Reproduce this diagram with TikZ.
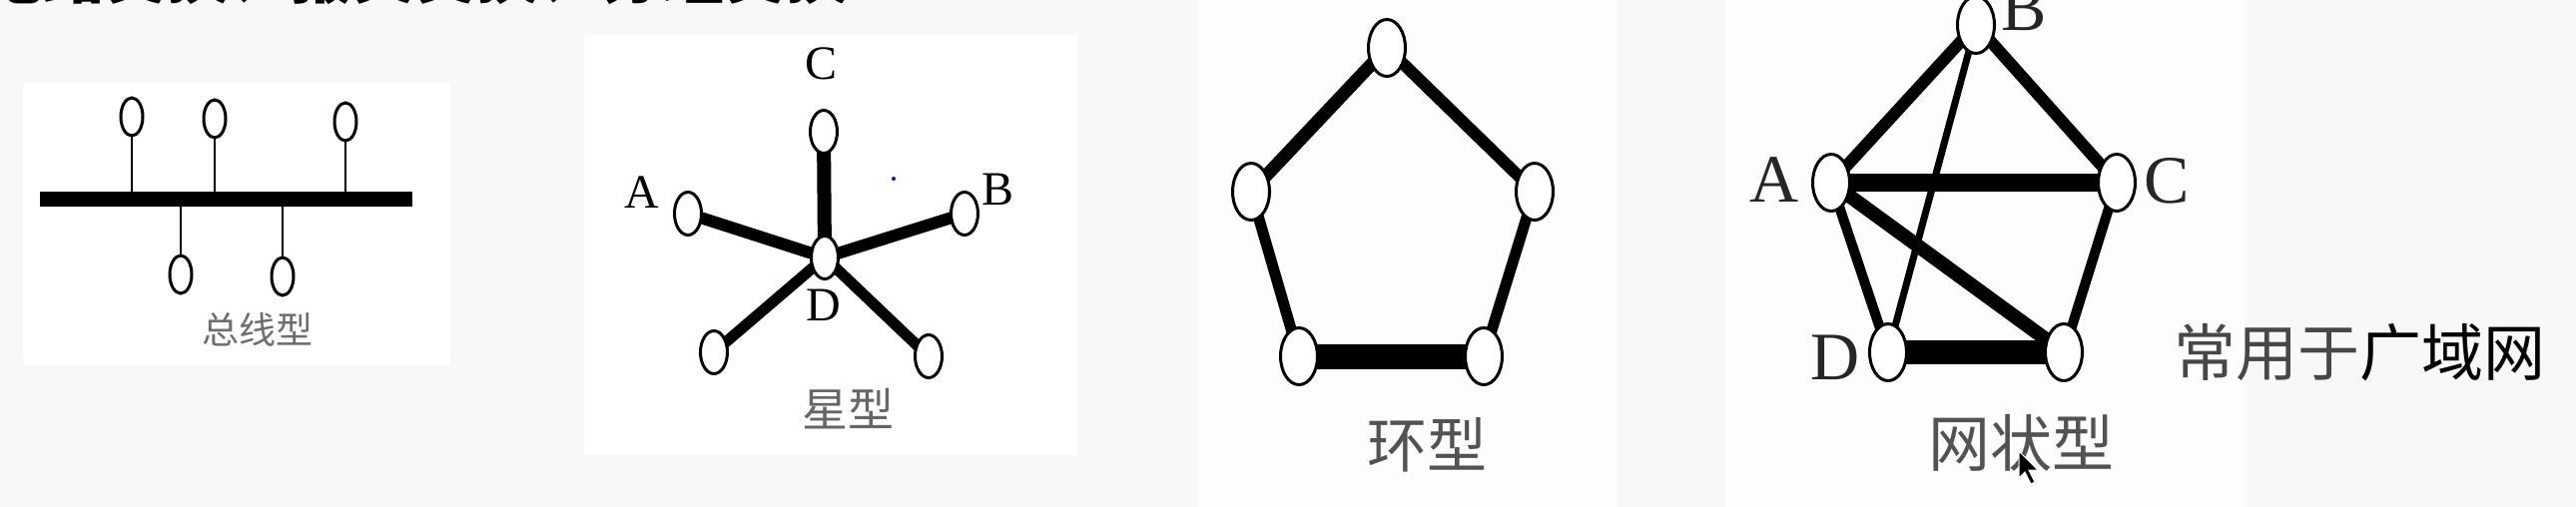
\documentclass[tikz,border=0pt]{standalone}
\usepackage{fontspec}
\newfontfamily\cjk{Noto Sans CJK SC}
\newfontfamily\tms{Liberation Serif}
\usetikzlibrary{shapes.geometric}
\pgfdeclarelayer{panels}
\pgfdeclarelayer{edges}
\pgfsetlayers{panels,edges,main}
\definecolor{bgc}{RGB}{248,248,248}
\definecolor{lblgray}{RGB}{110,110,110}
\tikzset{
  pc/.style={ellipse, draw=black, line width=3pt, fill=white, inner sep=0pt},
  busnode/.style={pc, minimum width=22pt, minimum height=38pt},
  starnode/.style={pc, minimum width=27pt, minimum height=43pt},
  bignode/.style={pc, minimum width=37pt, minimum height=57pt},
  letter/.style={inner sep=0pt, text=black, font=\tms\fontsize{48}{48}\selectfont},
  bigletter/.style={inner sep=0pt, text=black!85, font=\tms\fontsize{68}{68}\selectfont},
  cap/.style={inner sep=0pt, text=lblgray, font=\cjk\fontsize{#1}{#1}\selectfont},
  tap/.style={line width=2.5pt},
}
\begin{document}
\begin{tikzpicture}[x=1pt,y=-1pt]
\useasboundingbox (0,0) rectangle (2580,508);
\begin{pgfonlayer}{panels}
\fill[bgc] (0,0) rectangle (2580,508);
\fill[white] (23,83) rectangle (451,366);
\fill[white] (585,35) rectangle (1079,456);
\fill[white!70!bgc] (1200,0) rectangle (1620,508);
\fill[white!70!bgc] (1728,0) rectangle (2248,508);
\end{pgfonlayer}

% cut-off heading at the top
\node[anchor=base east, inner sep=0pt, font=\cjk\bfseries\fontsize{62}{62}\selectfont] (head) at (850,-1) {电路交换、报文交换、分组交换};

% ---------- bus ----------
\coordinate (busL) at (40,199);
\coordinate (busR) at (413,199);
\node[busnode] (b1) at (132,117) {};
\node[busnode] (b2) at (215,119) {};
\node[busnode] (b3) at (346,122) {};
\node[busnode] (b4) at (181,275) {};
\node[busnode] (b5) at (283,277) {};
\begin{pgfonlayer}{edges}
\draw[line width=15pt] (busL) -- (busR);
\foreach \n in {b1,b2,b3,b4,b5} \draw[tap] (\n.center) -- (\n |- busL);
\end{pgfonlayer}
\node[cap=37] (buslbl) at (258,330) {总线型};

% ---------- star ----------
\node[starnode] (sD) at (826,258) {};
\node[starnode] (sC) at (825,132) {};
\node[starnode] (sA) at (689,214) {};
\node[starnode] (sB) at (966,214) {};
\node[starnode] (sL) at (715,353) {};
\node[starnode] (sR) at (930,357) {};
\begin{pgfonlayer}{edges}
\draw[line width=14pt] (sC.center) -- (sD.center);
\draw[line width=12pt] (sA.center) -- (sD.center);
\draw[line width=12pt] (sB.center) -- (sD.center);
\draw[line width=11pt] (sL.center) -- (sD.center);
\draw[line width=11pt] (sR.center) -- (sD.center);
\end{pgfonlayer}
\node[letter] (lC) at (822,64) {C};
\node[letter] (lA) at (643,193) {A};
\node[letter] (lB) at (999,190) {B};
\node[letter] (lD) at (825,306) {D};
\fill[blue!70!black] (895,179) circle (2);
\node[cap=46, text=black!60] (starlbl) at (849,410) {星型};

% ---------- ring ----------
\node[bignode] (r1) at (1389,48) {};
\node[bignode] (r2) at (1537,192) {};
\node[bignode] (r3) at (1486,357) {};
\node[bignode] (r4) at (1301,357) {};
\node[bignode] (r5) at (1253,192) {};
\begin{pgfonlayer}{edges}
\draw[line width=12pt] (r1.center) -- (r2.center);
\draw[line width=11pt] (r2.center) -- (r3.center);
\draw[line width=25pt] (r3.center) -- (r4.center);
\draw[line width=11pt] (r4.center) -- (r5.center);
\draw[line width=13pt] (r5.center) -- (r1.center);
\end{pgfonlayer}
\node[cap=60, text=black!68] (ringlbl) at (1429,446) {环型};

% ---------- mesh ----------
\node[bignode] (mB) at (1979,25) {};
\node[bignode] (mA) at (1834,183) {};
\node[bignode] (mC) at (2120,183) {};
\node[bignode] (mD) at (1891,353) {};
\node[bignode] (mE) at (2067,353) {};
\begin{pgfonlayer}{edges}
\draw[line width=12pt] (mA.center) -- (mB.center);
\draw[line width=12pt] (mB.center) -- (mC.center);
\draw[line width=18pt] (mA.center) -- (mC.center);
\draw[line width=14pt] (mA.center) -- (mE.center);
\draw[line width=10pt] (mA.center) -- (mD.center);
\draw[line width=7pt] (mB.center) -- (mD.center);
\draw[line width=10pt] (mC.center) -- (mE.center);
\draw[line width=24pt] (mD.center) -- (mE.center);
\end{pgfonlayer}
\node[bigletter] (mlB) at (2027,8) {B};
\node[bigletter] (mlA) at (1777,180) {A};
\node[bigletter] (mlC) at (2170,181) {C};
\node[bigletter] (mlD) at (1838,358) {D};
\node[cap=62, text=black!68] (meshlbl) at (2024,444) {网状型};
\filldraw[black, draw=white, line width=1pt] (2022,452) -- ++(0,27) -- ++(6,-6) -- ++(6,12) -- ++(4,-2) -- ++(-6,-12) -- ++(9,0) -- cycle;

% ---------- note ----------
\node[anchor=west, inner sep=0pt, font=\cjk\fontsize{62}{62}\selectfont] (note) at (2177,353) {\textcolor{black!72}{常用于}广域网};
\end{tikzpicture}
\end{document}
